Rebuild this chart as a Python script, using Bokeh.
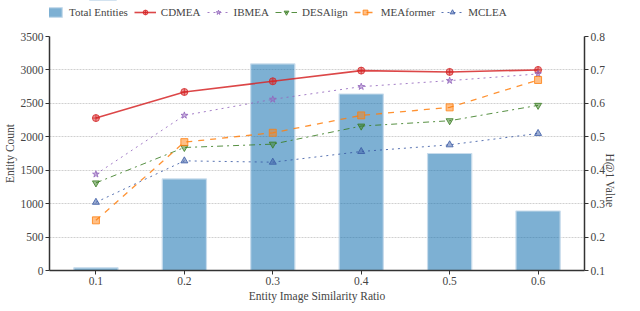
import math
from bokeh.plotting import figure
from bokeh.layouts import column
from bokeh.models import Range1d, LinearAxis, FixedTicker, Legend, LegendItem
from bokeh.embed import file_html
from bokeh.resources import INLINE

ratios = [0.1, 0.2, 0.3, 0.4, 0.5, 0.6]
tick_labels = ["0.1", "0.2", "0.3", "0.4", "0.5", "0.6"]
total_entities = [40, 1370, 3090, 2640, 1750, 890]
cdmea = [0.556, 0.634, 0.666, 0.698, 0.694, 0.700]
ibmea = [0.388, 0.564, 0.612, 0.650, 0.668, 0.688]
desalign = [0.362, 0.468, 0.478, 0.532, 0.548, 0.594]
meaformer = [0.250, 0.484, 0.512, 0.564, 0.588, 0.670]
mclea = [0.304, 0.428, 0.424, 0.456, 0.476, 0.510]

FONT = "Liberation Serif"

BAR_STYLE = dict(fill_color="#1f77b4", fill_alpha=0.58, line_color="#c8dcec", line_width=1.2)

series = [
    ("CDMEA", cdmea, "#d62728", "solid", "circle_cross", 1.6),
    ("IBMEA", ibmea, "#9467bd", "dotted", "star", 1.0),
    ("DESAlign", desalign, "#3a7d22", "dashdot", "inverted_triangle", 1.0),
    ("MEAformer", meaformer, "#ff7f0e", "dashed", "square", 1.3),
    ("MCLEA", mclea, "#3b5ba5", "dotted", "triangle", 1.0),
]

# ---- main chart ----
p = figure(width=624, height=281, output_backend="svg", toolbar_location=None,
           x_range=Range1d(0.0475, 0.6525), y_range=Range1d(0, 3500),
           frame_height=234,
           min_border_left=0, min_border_right=0, min_border_top=14, min_border_bottom=0)
p.extra_y_ranges = {"h": Range1d(0.1, 0.8)}

p.vbar(x=ratios, top=total_entities, width=0.05, **BAR_STYLE)

for name, vals, col, dash, marker, lw in series:
    p.line(ratios, vals, y_range_name="h", line_color=col, line_dash=dash, line_width=lw, line_alpha=0.85)
    p.scatter(ratios, vals, y_range_name="h", marker=marker, size=7, fill_color=col, fill_alpha=0.5,
              line_color=col, line_alpha=0.8)

p.yaxis.axis_label = "Entity Count"
p.yaxis.ticker = FixedTicker(ticks=[0, 500, 1000, 1500, 2000, 2500, 3000, 3500])
right = LinearAxis(y_range_name="h", axis_label="H@1 Value",
                   ticker=FixedTicker(ticks=[0.1, 0.2, 0.3, 0.4, 0.5, 0.6, 0.7, 0.8]))
right.axis_label_orientation = -math.pi / 2
p.add_layout(right, "right")

p.xaxis.axis_label = "Entity Image Similarity Ratio"
p.xaxis.ticker = FixedTicker(ticks=ratios)
p.xaxis.major_label_overrides = {r: t for r, t in zip(ratios, tick_labels)}

for ax in [p.xaxis[0], p.yaxis[0], right]:
    ax.axis_label_text_font = FONT
    ax.axis_label_text_font_size = "11.5px"
    ax.axis_label_text_font_style = "normal"
    ax.major_label_text_font = FONT
    ax.major_label_text_font_size = "11.5px"
    ax.axis_line_color = "#333333"
    ax.axis_line_width = 1.5
    ax.major_tick_line_color = "#333333"
    ax.major_tick_out = 4
    ax.major_tick_in = 0
    ax.minor_tick_line_color = None
    ax.axis_label_standoff = 2
    ax.major_label_standoff = 2

p.xgrid.grid_line_color = None
p.ygrid.grid_line_color = "#d0d0d0"
p.ygrid.grid_line_dash = "2 1"
p.outline_line_color = None

# ---- legend strip (its sample glyphs lie outside the strip's visible y range) ----
lg = figure(width=624, height=22, output_backend="svg", toolbar_location=None,
            x_range=Range1d(0, 1), y_range=Range1d(-10, -9),
            min_border_left=0, min_border_right=0, min_border_top=0, min_border_bottom=0)
lg.axis.visible = False
lg.grid.grid_line_color = None
lg.outline_line_color = None

items = [LegendItem(label="Total Entities",
                    renderers=[lg.vbar(x=ratios[:1], top=total_entities[:1], width=0.05, **BAR_STYLE)])]
for name, vals, col, dash, marker, lw in series:
    r1 = lg.line(x=ratios[:2], y=vals[:2], line_color=col, line_dash=dash, line_width=lw, line_alpha=0.85)
    r2 = lg.scatter(x=ratios[:1], y=vals[:1], marker=marker, size=7, fill_color=col, fill_alpha=0.5,
                    line_color=col, line_alpha=0.8)
    items.append(LegendItem(label=name, renderers=[r1, r2]))

legend = Legend(items=items, orientation="horizontal", location=(-7, 4),
                label_text_font=FONT, label_text_font_size="11px",
                border_line_color=None, background_fill_alpha=0,
                spacing=6, padding=0, margin=0, glyph_width=22, glyph_height=12,
                label_standoff=5)
lg.add_layout(legend, "center")

layout = column(lg, p, spacing=0)
open("out.html", "w").write(file_html(layout, INLINE))
